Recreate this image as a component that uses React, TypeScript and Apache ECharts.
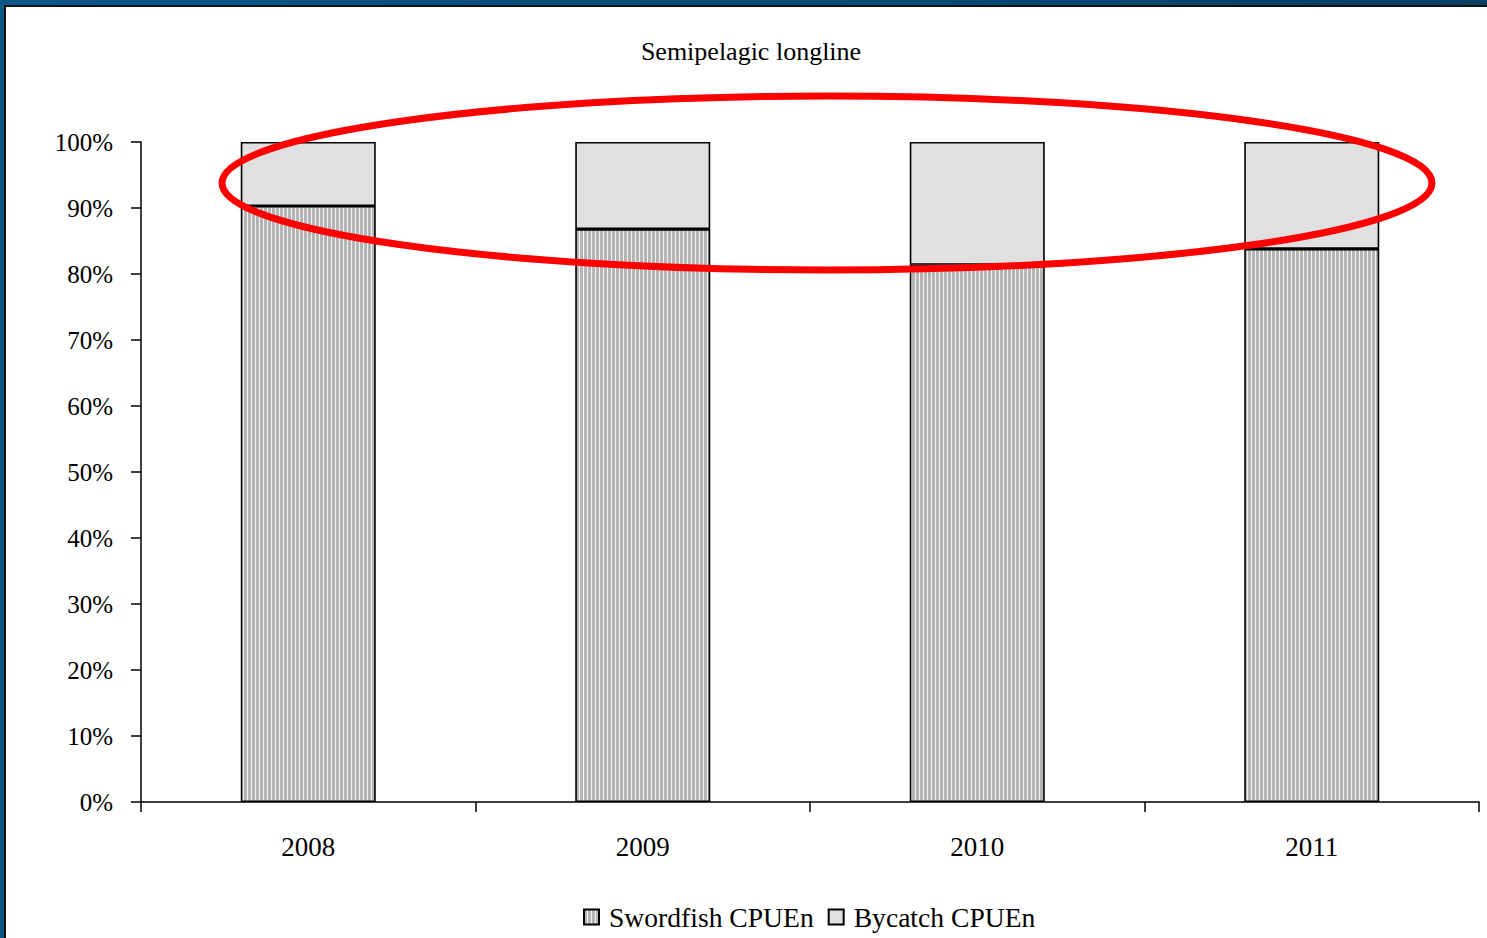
import React, { useEffect, useRef } from "react";
import * as echarts from "echarts";

const years = ["2008", "2009", "2010", "2011"];
const swordfish = [90.3, 86.8, 81.4, 83.8];
const bycatch = [9.7, 13.2, 18.6, 16.2];
const yTicks = { min: 0, max: 100, interval: 10 };

const FONT = "'Liberation Serif', 'Times New Roman', serif";

function stripePattern(): HTMLCanvasElement {
  const c = document.createElement("canvas");
  c.width = 4;
  c.height = 4;
  const ctx = c.getContext("2d")!;
  ctx.fillStyle = "#b4b4b4";
  ctx.fillRect(0, 0, 4, 4);
  ctx.fillStyle = "#f4f4f4";
  ctx.fillRect(3, 0, 1, 4);
  return c;
}

function ditherPattern(): HTMLCanvasElement {
  const c = document.createElement("canvas");
  c.width = 2;
  c.height = 2;
  const ctx = c.getContext("2d")!;
  ctx.fillStyle = "#e8e8e8";
  ctx.fillRect(0, 0, 2, 2);
  ctx.fillStyle = "#d8d8d8";
  ctx.fillRect(0, 0, 1, 1);
  ctx.fillRect(1, 1, 1, 1);
  return c;
}

export default function App() {
  const ref = useRef<HTMLDivElement>(null);

  useEffect(() => {
    const prevMargin = document.body.style.margin;
    document.body.style.margin = "0";
    const chart = echarts.init(ref.current!, undefined, { renderer: "svg" });
    const stripes = stripePattern();
    const dither = ditherPattern();

    chart.setOption({
      animation: false,
      grid: { left: 141, right: 8, top: 142, bottom: 136 },
      graphic: [
        {
          type: "text",
          x: 751,
          y: 51,
          style: {
            text: "Semipelagic longline",
            font: `26px ${FONT}`,
            fill: "#000",
            textAlign: "center",
            textVerticalAlign: "middle",
          },
        },
        {
          type: "ellipse",
          z: 100,
          shape: { cx: 827, cy: 183, rx: 605, ry: 87 },
          style: { fill: "none", stroke: "#ff0000", lineWidth: 7 },
        },
      ],
      legend: {
        left: 578,
        top: 898,
        icon: "rect",
        itemWidth: 15,
        itemHeight: 15,
        itemGap: 14,
        textStyle: { fontFamily: FONT, fontSize: 27.6, color: "#000", padding: [0, 0, 0, 5] },
        data: ["Swordfish CPUEn", "Bycatch CPUEn"],
      },
      xAxis: {
        type: "category",
        data: years,
        axisLine: { lineStyle: { color: "#000", width: 1.5 } },
        axisTick: { show: true, length: 10, lineStyle: { color: "#000", width: 1.5 } },
        axisLabel: { color: "#000", fontFamily: FONT, fontSize: 27, margin: 31 },
      },
      yAxis: {
        type: "value",
        min: yTicks.min,
        max: yTicks.max,
        interval: yTicks.interval,
        splitLine: { show: false },
        axisLine: { show: true, lineStyle: { color: "#000", width: 1.5 } },
        axisTick: { show: true, length: 10, lineStyle: { color: "#000", width: 1.5 } },
        axisLabel: {
          color: "#000",
          fontFamily: FONT,
          fontSize: 25,
          margin: 28,
          formatter: "{value}%",
        },
      },
      series: [
        {
          name: "Swordfish CPUEn",
          type: "bar",
          stack: "total",
          barWidth: 135,
          data: swordfish,
          itemStyle: {
            color: { image: stripes, repeat: "repeat", imageWidth: 4, imageHeight: 4 },
            borderColor: "#000",
            borderWidth: 1.6,
          },
        },
        {
          name: "Bycatch CPUEn",
          type: "bar",
          stack: "total",
          barWidth: 135,
          data: bycatch,
          itemStyle: {
            color: { image: dither, repeat: "repeat", imageWidth: 2, imageHeight: 2 },
            borderColor: "#000",
            borderWidth: 1.6,
          },
        },
      ],
    });

    return () => {
      chart.dispose();
      document.body.style.margin = prevMargin;
    };
  }, []);

  return (
    <div
      style={{
        position: "fixed",
        left: 0,
        top: 0,
        width: 1487,
        height: 938,
        background: "linear-gradient(90deg, #0b5788 0%, #064a78 60%, #0a3e63 100%)",
        overflow: "hidden",
      }}
    >
      <div
        style={{
          position: "absolute",
          left: 4,
          top: 5,
          right: -4,
          bottom: -4,
          background: "#fff",
          borderLeft: "2px solid #111",
          borderTop: "2px solid #111",
        }}
      />
      <div
        ref={ref}
        style={{ position: "absolute", left: 0, top: 0, width: 1487, height: 938 }}
      />
    </div>
  );
}
